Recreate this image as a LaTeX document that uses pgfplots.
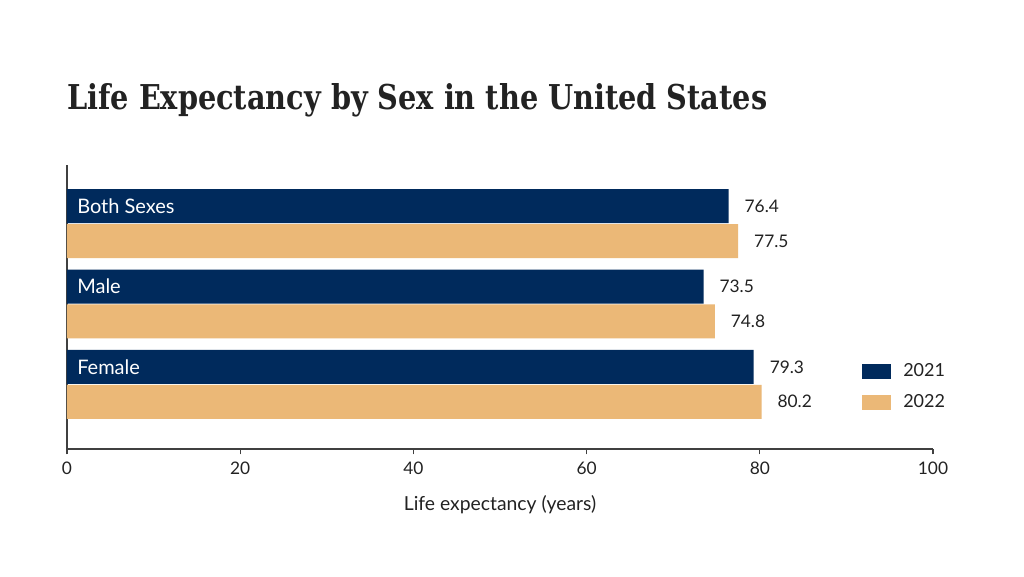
\documentclass[border=0pt]{standalone}
\usepackage{pgfplots}
\pgfplotsset{compat=1.18}
\usepackage{fontspec}
\setmainfont{Lato}
\newfontfamily\titlefont{DejaVu Serif Condensed}
\definecolor{navy}{HTML}{002A5C}
\definecolor{tan}{HTML}{EBB877}
\definecolor{txt}{HTML}{222222}
\begin{document}
\begin{tikzpicture}[x=1pt,y=1pt]
\fill[white] (0,0) rectangle (768,432);
\node[anchor=base west, inner sep=0, text=txt] at (50.25,349.5)
  {\resizebox{525pt}{19.5pt}{\titlefont\bfseries Life Expectancy by Sex in the United States}};
\begin{axis}[
  at={(50.25pt,95.25pt)}, anchor=south west,
  scale only axis, width=649.5pt, height=213pt,
  xmin=0, xmax=100, ymin=-0.806, ymax=2.731,
  axis lines=left, axis line style={-, line width=1pt, color=black!75},
  xtick={0,20,40,60,80,100}, ytick=\empty,
  tick align=outside, major tick length=4pt,
  xtick style={line width=0.8pt, color=black!75},
  /pgf/number format/assume math mode=true,
  xticklabel style={font=\fontsize{13}{15}\selectfont, text=txt, yshift=-1.8pt},
  xlabel={Life expectancy (years)},
  xlabel style={at={(rel axis cs:0.5,0)}, anchor=north, inner sep=0, yshift=-35pt,
    font=\fontsize{14.5}{16}\selectfont, text=txt},
  xbar, bar width=25.5pt,
  nodes near coords,
  nodes near coords style={anchor=west, xshift=8.5pt, font=\fontsize{13}{15}\selectfont, text=txt,
    /pgf/number format/fixed, /pgf/number format/fixed zerofill, /pgf/number format/precision=1},
  legend style={at={(rel axis cs:0.918,0.31)}, anchor=north west, draw=none, fill=none,
    font=\fontsize{13.5}{15}\selectfont, text=txt, row sep=8pt, inner sep=0pt,
    /tikz/every even column/.append style={column sep=6pt}},
  legend cell align=left,
  legend image code/.code={\fill[#1] (0pt,-5.6pt) rectangle (21.75pt,5.6pt);},
  legend style={/tikz/every odd column/.append style={column sep=7pt}},
]
\addplot[fill=navy, draw=none, bar shift=13.1pt] coordinates {(76.4,2) (73.5,1) (79.3,0)};
\addplot[fill=tan, draw=none, bar shift=-13.1pt] coordinates {(77.5,2) (74.8,1) (80.2,0)};
\legend{2021,2022}
\node[anchor=west, inner sep=0, xshift=7.5pt, yshift=13.1pt, text=white, font=\fontsize{15}{17}\selectfont] at (axis cs:0,2) {Both Sexes};
\node[anchor=west, inner sep=0, xshift=7.5pt, yshift=13.1pt, text=white, font=\fontsize{15}{17}\selectfont] at (axis cs:0,1) {Male};
\node[anchor=west, inner sep=0, xshift=7.5pt, yshift=13.1pt, text=white, font=\fontsize{15}{17}\selectfont] at (axis cs:0,0) {Female};
\end{axis}
\end{tikzpicture}
\end{document}
